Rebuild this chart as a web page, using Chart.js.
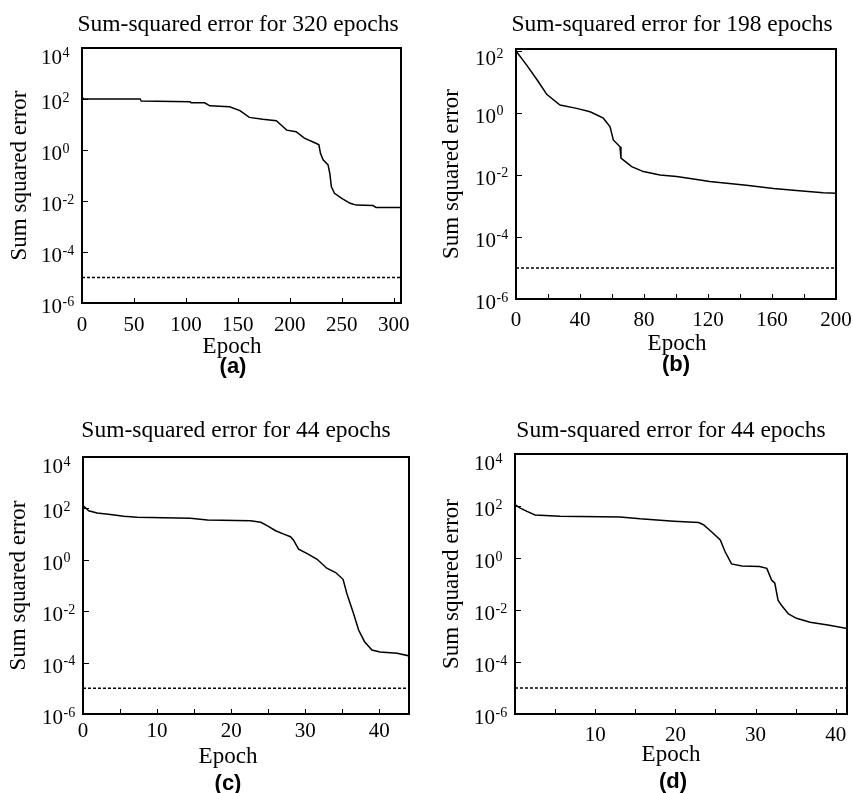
<!DOCTYPE html>
<html><head><meta charset="utf-8">
<script src="https://cdn.jsdelivr.net/npm/chart.js@4.4.1/dist/chart.umd.min.js"></script>
<style>
html,body{margin:0;padding:0;background:#fff;}
body{width:853px;height:793px;position:relative;overflow:hidden;}
canvas{position:absolute;}
</style></head><body>
<canvas id="cA" width="420" height="400" style="left:0px;top:0px"></canvas>
<canvas id="cB" width="433" height="400" style="left:420px;top:0px"></canvas>
<canvas id="cC" width="420" height="393" style="left:0px;top:400px"></canvas>
<canvas id="cD" width="433" height="393" style="left:420px;top:400px"></canvas>
<script>
// ---------- data ----------
const epochsA = [0, 1.3, 56, 57, 104, 105, 118, 123, 142, 152, 161, 174, 187, 190, 197, 206, 214, 225.6, 228, 229.5, 232, 236.8, 238.5, 240, 243, 250, 258, 264, 280, 283, 307];
const errorsA = [123, 100, 100, 83, 78, 71, 71, 54, 50, 35, 19, 16, 14, 11, 6.0, 5.2, 2.9, 1.8, 1.6, 0.74, 0.41, 0.26, 0.12, 0.036, 0.020, 0.0126, 0.0081, 0.0069, 0.0066, 0.0056, 0.0056];

const epochsB = [0, 6.7, 14, 19.2, 27.5, 37.9, 46.3, 54.6, 58.8, 60.8, 65, 65.6, 72.3, 79.6, 90, 100.4, 113, 121, 144, 161, 177, 192, 200];
const errorsB = [100, 35, 10.2, 4.0, 1.8, 1.41, 1.10, 0.68, 0.36, 0.135, 0.081, 0.035, 0.0186, 0.0129, 0.0100, 0.0089, 0.0072, 0.0062, 0.0047, 0.0037, 0.0031, 0.0027, 0.0026];

const epochsC = [0, 0.77, 1.9, 3.7, 5.5, 7.3, 14.5, 16.8, 22.6, 24, 24.9, 26, 27.1, 28, 28.4, 29.1, 30.2, 31.6, 32.9, 34.1, 35.1, 35.6, 36.5, 37.2, 38.0, 39.0, 40.1, 42.4, 44.1];
const errorsC = [129, 81, 66, 58, 49, 45, 41, 35, 33, 29, 21, 13.5, 10, 7.9, 5.9, 2.6, 1.78, 1.05, 0.47, 0.32, 0.174, 0.050, 0.0083, 0.00186, 0.00065, 0.00031, 0.00026, 0.00023, 0.00018];

const epochsD = [0, 0.66, 1.5, 2.5, 5.6, 13.1, 15.6, 19.8, 22.9, 23.5, 24.5, 25.6, 26.2, 27.0, 28.3, 30.5, 31.4, 32.0, 32.4, 32.8, 33.2, 34.1, 35.1, 36.8, 39.2, 41.4];
const errorsD = [112, 83, 62, 45, 40, 38, 32, 26, 23, 19, 10.2, 4.9, 1.74, 0.59, 0.49, 0.47, 0.40, 0.141, 0.107, 0.024, 0.0155, 0.0071, 0.0048, 0.0034, 0.0026, 0.00195];

const goalError = 1e-5;

const yTicksFull = [1e-6, 1e-4, 1e-2, 1, 1e2, 1e4];
const yTicksB = [1e-6, 1e-4, 1e-2, 1, 1e2];

const xTicksA = [0, 50, 100, 150, 200, 250, 300];
const xLabelsA = [0, 50, 100, 150, 200, 250, 300];
const xTicksB = [0, 20, 40, 60, 80, 100, 120, 140, 160, 180, 200];
const xLabelsB = [0, 40, 80, 120, 160, 200];
const xTicksC = [0, 5, 10, 15, 20, 25, 30, 35, 40];
const xLabelsC = [0, 10, 20, 30, 40];
const xTicksD = [5, 10, 15, 20, 25, 30, 35, 40];
const xLabelsD = [10, 20, 30, 40];

const titles = ['Sum-squared error for 320 epochs', 'Sum-squared error for 198 epochs', 'Sum-squared error for 44 epochs', 'Sum-squared error for 44 epochs'];
const panelLetters = ['(a)', '(b)', '(c)', '(d)'];
const xAxisTitle = 'Epoch';
const yAxisTitle = 'Sum squared error';

// ---------- layout / style ----------
const SERIF = '"Liberation Serif", "Times New Roman", serif';
const SANS = '"Liberation Sans", Arial, sans-serif';

const panels = [
  {id:'cA', epochs:epochsA, errors:errorsA, xTicks:xTicksA, xLabels:xLabelsA, yTicks:yTicksFull,
   cv:{l:0,t:0,w:420,h:400}, area:{L:82,T:48,R:401,B:303}, xMin:0, xMax:307, yMax:1e4,
   tickPad:10, yTitlePad:8.5, title:{x:238,y:31}, xlab:{x:232,y:353}, letter:{x:233,y:373}},
  {id:'cB', epochs:epochsB, errors:errorsB, xTicks:xTicksB, xLabels:xLabelsB, yTicks:yTicksB,
   cv:{l:420,t:0,w:433,h:400}, area:{L:516,T:49,R:836,B:299}, xMin:0, xMax:200, yMax:116,
   tickPad:8.4, yTitlePad:20.5, title:{x:672,y:31}, xlab:{x:677,y:350}, letter:{x:676,y:371}},
  {id:'cC', epochs:epochsC, errors:errorsC, xTicks:xTicksC, xLabels:xLabelsC, yTicks:yTicksFull,
   cv:{l:0,t:400,w:420,h:393}, area:{L:83,T:457,R:409,B:714}, xMin:0, xMax:44, yMax:1e4,
   tickPad:4.4, yTitlePad:7.5, title:{x:236,y:437}, xlab:{x:228,y:763}, letter:{x:228,y:790}},
  {id:'cD', epochs:epochsD, errors:errorsD, xTicks:xTicksD, xLabels:xLabelsD, yTicks:yTicksFull,
   cv:{l:420,t:400,w:433,h:393}, area:{L:515,T:454,R:847,B:714}, xMin:0, xMax:41.4, yMax:1e4,
   tickPad:8.4, yTitlePad:20.5, title:{x:671,y:437}, xlab:{x:671,y:761}, letter:{x:673,y:788}}
];

function makeFramePlugin(p, titleText, letterText) {
  return {
    id: 'frame',
    afterDraw(chart) {
      const ctx = chart.ctx, a = chart.chartArea;
      const xs = chart.scales.x, ys = chart.scales.y;
      ctx.save();
      ctx.strokeStyle = '#000';
      ctx.lineWidth = 1;
      ctx.beginPath();
      xs.ticks.forEach(t => {
        const px = Math.round(xs.getPixelForValue(t.value)) + 0.5;
        ctx.moveTo(px, a.bottom); ctx.lineTo(px, a.bottom - 5);
      });
      ys.ticks.forEach(t => {
        const py = Math.round(ys.getPixelForValue(t.value)) + 0.5;
        ctx.moveTo(a.left, py); ctx.lineTo(a.left + 6, py);
      });
      ctx.stroke();
      ctx.lineWidth = 2;
      ctx.strokeRect(a.left, a.top, a.right - a.left, a.bottom - a.top);

      ctx.fillStyle = '#000';
      ctx.textBaseline = 'alphabetic';
      ys.ticks.forEach(t => {
        const py = ys.getPixelForValue(t.value);
        const base = Math.max(py + 10, a.top + 16);
        const x0 = a.left - 41;
        ctx.textAlign = 'left';
        ctx.font = '21px ' + SERIF;
        ctx.fillText('10', x0, base);
        const w = ctx.measureText('10').width;
        ctx.font = '14px ' + SERIF;
        ctx.fillText(String(Math.round(Math.log10(t.value))), x0 + w + 0.5, base - 7.5);
      });

      ctx.textAlign = 'center';
      ctx.font = '23.5px ' + SERIF;
      ctx.fillText(titleText, p.title.x - p.cv.l, p.title.y - p.cv.t);
      ctx.font = '23px ' + SERIF;
      ctx.fillText(xAxisTitle, p.xlab.x - p.cv.l, p.xlab.y - p.cv.t);
      ctx.font = 'bold 22px ' + SANS;
      ctx.fillText(letterText, p.letter.x - p.cv.l, p.letter.y - p.cv.t);
      ctx.restore();
    }
  };
}

panels.forEach((p, i) => {
  const Lr = p.area.L - p.cv.l, Tr = p.area.T - p.cv.t, Rr = p.area.R - p.cv.l, Br = p.area.B - p.cv.t;
  const Hx = 40;
  new Chart(document.getElementById(p.id), {
    type: 'line',
    data: {
      datasets: [
        {data: p.epochs.map((e, k) => ({x: e, y: p.errors[k]})), borderColor: '#000', borderWidth: 1.5,
         pointRadius: 0, tension: 0, fill: false},
        {data: [{x: p.xMin, y: goalError}, {x: p.xMax, y: goalError}], borderColor: '#000', borderWidth: 1.4,
         borderDash: [3, 2], pointRadius: 0, fill: false}
      ]
    },
    options: {
      responsive: false,
      animation: false,
      devicePixelRatio: 1,
      layout: {padding: {left: 0, top: Tr, right: p.cv.w - Rr, bottom: p.cv.h - Br - Hx}},
      plugins: {legend: {display: false}, tooltip: {enabled: false}, title: {display: false}},
      scales: {
        x: {
          type: 'linear', min: p.xMin, max: p.xMax,
          grid: {display: false, drawTicks: false}, border: {display: false},
          ticks: {
            color: '#000', font: {family: SERIF, size: 21, lineHeight: 1.2}, padding: p.tickPad,
            autoSkip: false, maxRotation: 0, minRotation: 0,
            callback: (v) => p.xLabels.includes(v) ? String(v) : ''
          },
          afterBuildTicks: (s) => { s.ticks = p.xTicks.map(v => ({value: v})); },
          afterFit: (s) => { s.height = Hx; s.paddingLeft = 0; s.paddingRight = 0; }
        },
        y: {
          type: 'logarithmic', min: 1e-6, max: p.yMax,
          grid: {display: false, drawTicks: false}, border: {display: false},
          ticks: {display: false},
          title: {display: true, text: yAxisTitle, color: '#000',
                  font: {family: SERIF, size: 23, lineHeight: 1}, padding: {top: p.yTitlePad, bottom: 0}},
          afterBuildTicks: (s) => { s.ticks = p.yTicks.map(v => ({value: v})); },
          afterFit: (s) => { s.width = Lr; s.paddingTop = 0; s.paddingBottom = 0; }
        }
      }
    },
    plugins: [makeFramePlugin(p, titles[i], panelLetters[i])]
  });
});
</script>
</body></html>
